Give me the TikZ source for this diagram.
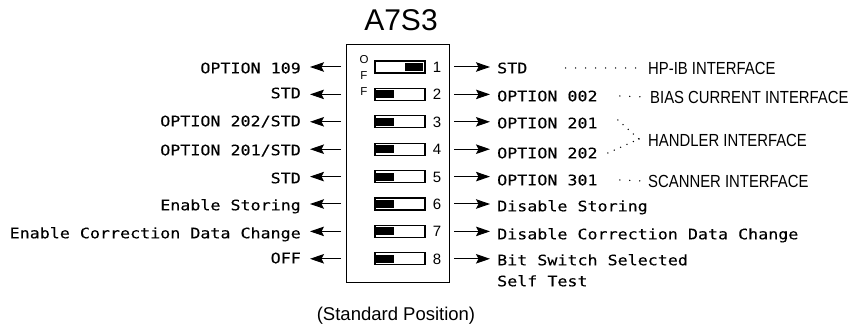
\documentclass[tikz,border=0pt]{standalone}
\usepackage{fontspec}
\setmainfont{Liberation Sans}
\newfontfamily\monof[FakeStretch=1.15,FakeBold=0.15]{DejaVu Sans Mono}
\newfontfamily\condf[FakeStretch=0.85]{Liberation Sans}
\usetikzlibrary{arrows.meta}

\begin{document}
\begin{tikzpicture}[x=1pt,y=-1pt,
  lbl/.style={font=\monof\fontsize{14.5}{17}\selectfont, inner sep=0pt, text height=10.6pt, text depth=0pt},
  ifc/.style={font=\condf\fontsize{17.5}{20}\selectfont, inner sep=0pt, anchor=west, text height=12.5pt, text depth=0pt},
  arr/.style={-{Stealth[length=14pt,width=9.5pt,inset=2.5pt]}, line width=1pt},
  lead/.style={line width=1.5pt, dash pattern=on 0pt off 10pt, line cap=round},
  hlead/.style={line width=1.5pt, dash pattern=on 0pt off 7pt, line cap=round},
  sw/.style={draw, line width=1.2pt, minimum width=50pt, minimum height=12pt, inner sep=0pt},
  knob/.style={fill=black, minimum width=18pt, minimum height=8pt, inner sep=0pt},
  num/.style={font=\fontsize{15}{17}\selectfont, inner sep=0pt, text height=11pt, text depth=0pt},
  offl/.style={font=\fontsize{11.5}{12}\selectfont, inner sep=0pt, text height=8.3pt, text depth=0pt}
]
\fill[white] (0,0) rectangle (855,326);
\useasboundingbox (0,0) rectangle (855,326);

% title and caption
\node[font=\fontsize{30}{34}\selectfont, inner sep=0pt] (title) at (401,20) {A7S3};
\node[font=\fontsize{18.5}{22}\selectfont, inner sep=0pt] (caption) at (396,316) {(Standard Position)};

% switch housing
\node[draw, line width=1pt, minimum width=103pt, minimum height=237pt, inner sep=0pt] (box) at (397.5,163.5) {};

% OFF letters
\node[offl] (o1) at (364,59) {O};
\node[offl] (o2) at (364,75) {F};
\node[offl] (o3) at (364,91) {F};

% switches
\node[sw] (s1) at (400,67) {};
\node[sw] (s2) at (400,94.4) {};
\node[sw] (s3) at (400,121.8) {};
\node[sw] (s4) at (400,149.2) {};
\node[sw] (s5) at (400,176.6) {};
\node[sw] (s6) at (400,204) {};
\node[sw] (s7) at (400,231.4) {};
\node[sw] (s8) at (400,258.8) {};
\node[knob, anchor=east] (k1) at ([xshift=-2pt]s1.east) {};
\node[knob, anchor=west] (k2) at ([xshift=1.5pt]s2.west) {};
\node[knob, anchor=west] (k3) at ([xshift=1.5pt]s3.west) {};
\node[knob, anchor=west] (k4) at ([xshift=1.5pt]s4.west) {};
\node[knob, anchor=west] (k5) at ([xshift=1.5pt]s5.west) {};
\node[knob, anchor=west] (k6) at ([xshift=1.5pt]s6.west) {};
\node[knob, anchor=west] (k7) at ([xshift=1.5pt]s7.west) {};
\node[knob, anchor=west] (k8) at ([xshift=1.5pt]s8.west) {};

% numbers
\node[num] (n1) at (437,67) {1};
\node[num] (n2) at (437,94.4) {2};
\node[num] (n3) at (437,121.8) {3};
\node[num] (n4) at (437,149.2) {4};
\node[num] (n5) at (437,176.6) {5};
\node[num] (n6) at (437,204) {6};
\node[num] (n7) at (437,231.4) {7};
\node[num] (n8) at (437,258.8) {8};

% left labels
\node[lbl, anchor=east] (l1) at (301,68) {OPTION 109};
\node[lbl, anchor=east] (l2) at (301,93) {STD};
\node[lbl, anchor=east] (l3) at (301,121) {OPTION 202/STD};
\node[lbl, anchor=east] (l4) at (301,150) {OPTION 201/STD};
\node[lbl, anchor=east] (l5) at (301,178) {STD};
\node[lbl, anchor=east] (l6) at (301,205) {Enable Storing};
\node[lbl, anchor=east] (l7) at (301,233) {Enable Correction Data Change};
\node[lbl, anchor=east] (l8) at (301,258) {OFF};

% right labels
\node[lbl, anchor=west] (r1) at (497,68) {STD};
\node[lbl, anchor=west] (r2) at (497,96) {OPTION 002};
\node[lbl, anchor=west] (r3) at (497,123) {OPTION 201};
\node[lbl, anchor=west] (r4) at (497,153) {OPTION 202};
\node[lbl, anchor=west] (r5) at (497,180) {OPTION 301};
\node[lbl, anchor=west] (r6) at (497,206) {Disable Storing};
\node[lbl, anchor=west] (r7) at (497,234) {Disable Correction Data Change};
\node[lbl, anchor=west] (r8) at (497,260) {Bit Switch Selected};
\node[lbl, anchor=west] (r8b) at (497,281) {Self Test};

% arrows
\foreach \i/\y in {1/67,2/94.4,3/121.8,4/149.2,5/176.6,6/204,7/231.4,8/258.8}{
  \coordinate (la\i) at (341,\y);
  \draw[arr, shorten >=9pt] (la\i) -- (la\i -| l\i.east);
  \coordinate (ra\i) at (454,\y);
  \draw[arr, shorten >=7pt] (ra\i) -- (ra\i -| r\i.west);
}

% interface labels
\node[ifc] (i1) at (648,68) {HP-IB INTERFACE};
\node[ifc] (i2) at (650,97) {BIAS CURRENT INTERFACE};
\node[ifc] (i3) at (648,140) {HANDLER INTERFACE};
\node[ifc] (i4) at (648,181) {SCANNER INTERFACE};

% leaders
\draw[lead] ([xshift=38pt]r1.east) -- ([xshift=-4pt]i1.west);
\draw[lead] ([xshift=22pt]r2.east) -- ([xshift=-4pt]i2.west);
\draw[lead] ([xshift=22pt]r5.east) -- ([xshift=-4pt]i4.west);
\coordinate (hj) at (639,139);
\draw[hlead] ([xshift=20pt,yshift=3pt]r3.east) -- (hj);
\draw[hlead] ([xshift=10pt]r4.east) -- (hj);
\draw[hlead] (hj) -- ([xshift=-3pt]i3.west);
\end{tikzpicture}
\end{document}
